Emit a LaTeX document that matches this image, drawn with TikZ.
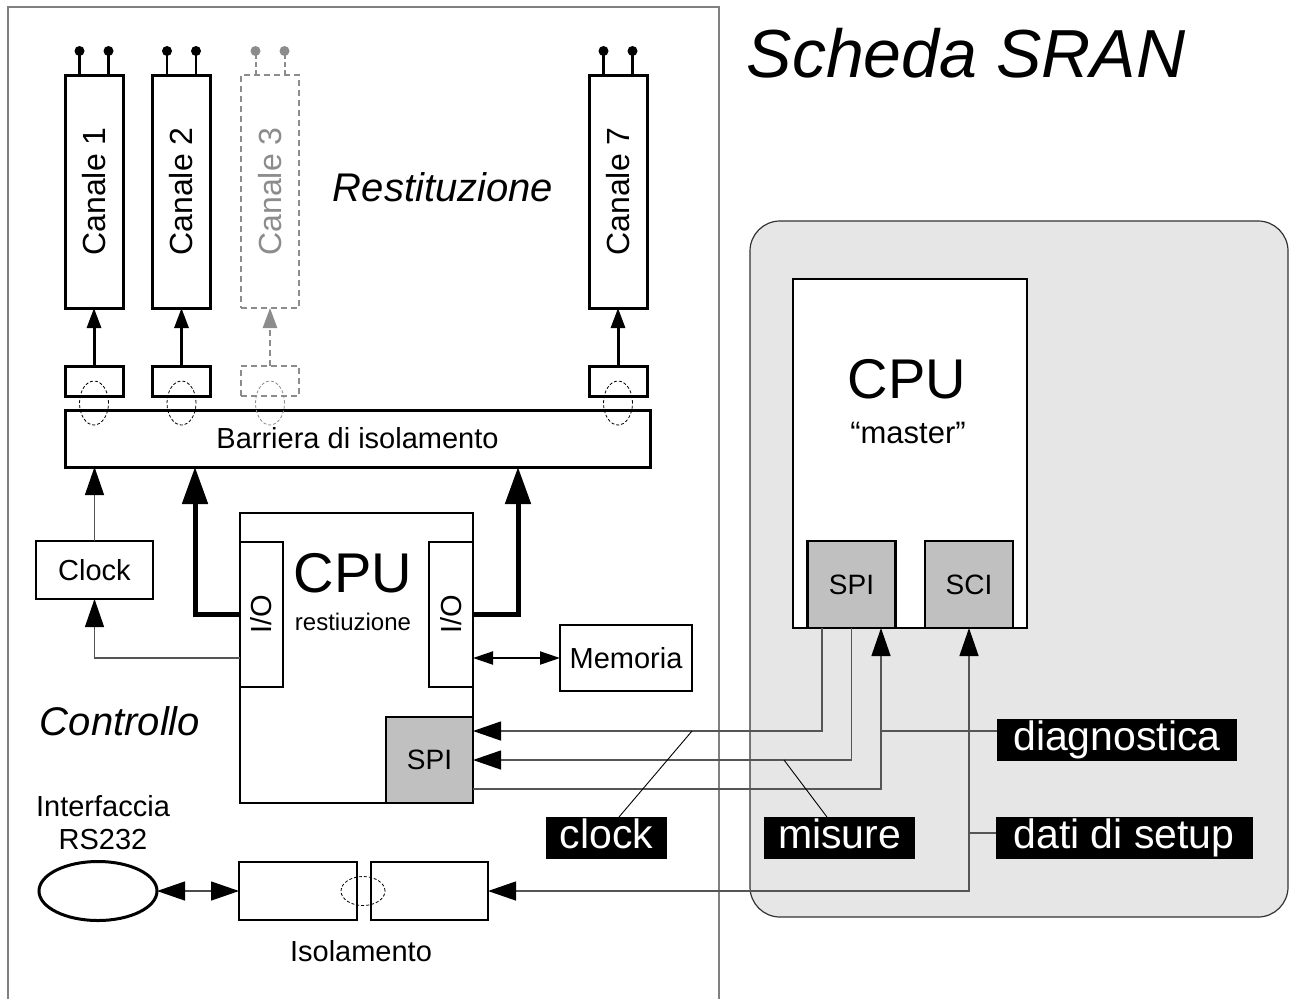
\documentclass[tikz,border=0pt]{standalone}
\usepackage{fontspec}
\setmainfont{Liberation Sans}
\usetikzlibrary{arrows.meta,shapes.geometric,calc}
\newcommand\setfs[1]{\fontsize{#1pt}{#1pt}\selectfont}
\definecolor{chipgray}{HTML}{C0C0C0}
\definecolor{boardgray}{HTML}{E6E6E6}
\definecolor{wiregray}{HTML}{555555}
\definecolor{framegray}{HTML}{808080}
\tikzset{
  TS/.tip={Triangle[length=20pt,width=14pt,color=black]},
  TG/.tip={Triangle[length=20pt,width=14pt,color=black!45]},
  TL/.tip={Triangle[length=37pt,width=25pt,color=black]},
  TM/.tip={Triangle[length=28pt,width=19pt,color=black]},
  TK/.tip={Triangle[length=20pt,width=13pt,color=black]},
}
\begin{document}
\begin{tikzpicture}[x=1pt,y=-1pt,
  every node/.style={inner sep=0pt,outer sep=0pt},
  blk/.style={draw,line width=2.5pt,fill=white,font=\setfs{29}},
  chan/.style={draw,line width=3pt,fill=white,minimum width=58pt,minimum height=233pt},
  conv/.style={draw,line width=3pt,fill=white,minimum width=58pt,minimum height=30pt},
  ghost/.style={draw=black!45,line width=2.5pt,dash pattern=on 6pt off 4pt},
  isoring/.style={ellipse,draw,line width=0.8pt,dash pattern=on 3pt off 2pt,minimum width=29pt,minimum height=44pt},
  pindot/.style={circle,fill,minimum size=10pt},
  chip/.style={draw,line width=2.5pt,fill=chipgray,font=\setfs{28}},
  wire/.style={draw=wiregray,line width=1.3pt},
  leader/.style={draw=black,line width=0.9pt},
  bus/.style={draw=black,line width=5pt,-TL},
  tag/.style={fill=black,text=white,font=\setfs{41},minimum height=42pt,text height=29pt,text depth=8pt}
]
\useasboundingbox (0,0) rectangle (1289,999);

% ---------- SRAN master board ----------
\node[draw=black!80,line width=1.2pt,fill=boardgray,rounded corners=30pt,
      minimum width=538pt,minimum height=696pt] (sran) at (1019,569) {};
\node[font=\setfs{68}\itshape] (title) at (966,53) {Scheda SRAN};
\node[blk,minimum width=234pt,minimum height=349pt] (cpuM) at (910,453.5) {};
\node[font=\setfs{56}] (cpuMt) at (907,379) {CPU};
\node[font=\setfs{31},anchor=base] (cpuMs) at (908,443) {“master”};
\node[chip,minimum width=88pt,minimum height=87pt] (spiM) at (851.5,584.5) {SPI};
\node[chip,minimum width=88pt,minimum height=87pt] (sciM) at (969,584.5) {SCI};

% ---------- control board frame ----------
\draw[draw=framegray,line width=1.5pt] (8,999) -- (8,7) -- (719,7) -- (719,999);
\node[font=\setfs{40}\itshape] (restit) at (443,187) {Restituzione};
\node[font=\setfs{40}\itshape] (ctrl) at (120,721) {Controllo};

% ---------- output channels ----------
\foreach \n/\x/\lab in {1/94/Canale 1,2/181.5/Canale 2,7/618/Canale 7}{
  \node[chan] (c\n) at (\x,191.5) {};
  \node[rotate=90,font=\setfs{32}] (c\n t) at (c\n.center) {\lab};
  \node[conv] (s\n) at (\x,381) {};
  \draw[line width=3pt,-TS] (s\n.north) -- (c\n.south);
  \draw[line width=2.5pt] ([xshift=-14.5pt]c\n.north) -- ++(0,-24) node[pindot] (c\n a) {};
  \draw[line width=2.5pt] ([xshift=14.5pt]c\n.north) -- ++(0,-24) node[pindot] (c\n b) {};
}
% channel 3, not fitted
\node[ghost,minimum width=58pt,minimum height=233pt] (c3) at (270,191.5) {};
\node[rotate=90,font=\setfs{32},text=black!45] (c3t) at (c3.center) {Canale 3};
\node[ghost,minimum width=58pt,minimum height=30pt] (s3) at (270,381) {};
\draw[draw=black!45,line width=2.5pt,dash pattern=on 6pt off 4pt,-TG] (s3.north) -- (c3.south);
\draw[ghost,line width=2pt,dash pattern=on 5pt off 3pt] ([xshift=-14.5pt]c3.north) -- ++(0,-24) node[pindot,fill=black!45] (c3a) {};
\draw[ghost,line width=2pt,dash pattern=on 5pt off 3pt] ([xshift=14.5pt]c3.north) -- ++(0,-24) node[pindot,fill=black!45] (c3b) {};

% ---------- isolation barrier ----------
\node[blk,line width=3pt,minimum width=585pt,minimum height=57pt] (bar) at (357.5,438.5) {Barriera di isolamento};
\foreach \n in {1,2,7}{ \node[isoring] (r\n) at ([yshift=-22pt]s\n.center) {}; }
\node[isoring,draw=black!45] (r3) at ([yshift=-22pt]s3.center) {};

% ---------- restitution CPU ----------
\node[blk,minimum width=233pt,minimum height=290pt] (cpuR) at (356.5,658) {};
\node[blk,minimum width=43pt,minimum height=145pt] (ioL) at (261.5,614.5) {};
\node[rotate=90,font=\setfs{29}] (ioLt) at (ioL.center) {I/O};
\node[blk,minimum width=44pt,minimum height=145pt] (ioR) at (451,614.5) {};
\node[rotate=90,font=\setfs{29}] (ioRt) at (ioR.center) {I/O};
\node[font=\setfs{56}] (cpuRt) at (353,573) {CPU};
\node[font=\setfs{24},anchor=base] (cpuRs) at (353,630) {restiuzione};
\node[chip,minimum width=87pt,minimum height=86pt] (spiR) at (429.5,760) {SPI};
\node[blk,minimum width=132pt,minimum height=66pt] (mem) at (626,658) {Memoria};
\node[blk,minimum width=117pt,minimum height=58pt] (clk) at (94.5,570) {Clock};

\draw[bus] (ioL.west) -| ([xshift=-162.5pt]bar.south);
\draw[bus] (ioR.east) -| ([xshift=160.5pt]bar.south);
\draw[wire,-TM] (clk.north) -- (clk.north |- bar.south);
\draw[wire,-TM] ([yshift=-43.5pt]ioL.west) -| (clk.south);
\draw[draw=black,line width=2pt,TK-TK] (ioR.east |- mem.west) -- (mem.west);

% ---------- serial links ----------
\draw[wire,TM-] ([yshift=29pt]spiR.east) -| ([xshift=-29.5pt]spiM.south);
\draw[wire,TM-] (spiR.east) -| (spiM.south);
\draw[wire,-TM] ([yshift=-29pt]spiR.east) -| ([xshift=29.5pt]spiM.south);

% ---------- RS232 and its isolation ----------
\node[ellipse,draw,line width=3pt,minimum width=118pt,minimum height=59pt] (rs) at (98,891) {};
\node[font=\setfs{29},align=center] (rst) at (103,823) {Interfaccia\\[4pt]RS232};
\node[blk,minimum width=118pt,minimum height=58pt] (isoL) at (298,891) {};
\node[blk,minimum width=117pt,minimum height=58pt] (isoR) at (429.5,891) {};
\node[isoring,minimum width=44pt,minimum height=29pt] (risoc) at (363,891) {};
\node[font=\setfs{29}] (isot) at (361,951) {Isolamento};
\draw[draw=black!70,line width=1.3pt,TM-TM] (rs.east) -- (isoL.west);
\draw[wire,TM-TM] (isoR.east) -| (sciM.south);

% ---------- signal tags ----------
\node[tag,minimum width=121pt] (lclock) at (606.5,838) {clock};
\node[tag,minimum width=151pt] (lmis) at (839.5,838) {misure};
\node[tag,minimum width=240pt] (ldiag) at (1117,740) {diagnostica};
\node[tag,minimum width=257pt] (lset) at (1124,838) {dati di setup};
\coordinate (clkTap) at (692,731);
\coordinate (misTap) at (784,760);
\coordinate (diagTap) at (881,731);
\coordinate (setTap) at (969,833);
\draw[leader] (clkTap) -- ([xshift=12.5pt]lclock.north);
\draw[leader] (misTap) -- ([xshift=-12.5pt]lmis.north);
\draw[wire] (diagTap) -- (ldiag.west |- diagTap);
\draw[wire] (setTap) -- (lset.west |- setTap);
\end{tikzpicture}
\end{document}
